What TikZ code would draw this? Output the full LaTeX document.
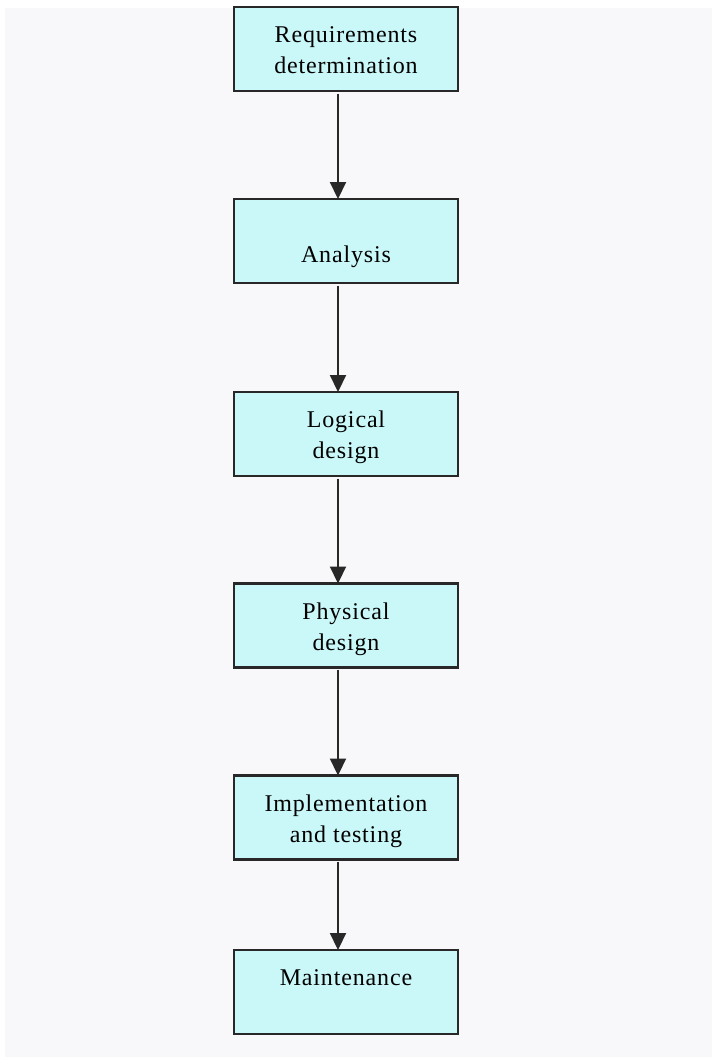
\documentclass[tikz,border=0pt]{standalone}
\usepackage{fontspec}
\setmainfont{Liberation Serif}[LetterSpace=3.5]
\usetikzlibrary{arrows.meta}
\definecolor{paper}{RGB}{248,248,250}
\definecolor{boxfill}{RGB}{202,247,248}
\definecolor{edge}{RGB}{40,40,40}
\tikzset{
  stagebox/.style={draw=edge, line width=1.6pt, fill=boxfill,
    minimum width=168pt, minimum height=63pt, inner sep=0pt, outer sep=0pt},
  stagetext/.style={anchor=base, align=center, inner sep=0pt,
    font=\fontsize{18pt}{23.25pt}\selectfont},
  flow/.style={draw=edge, line width=1.6pt,
    -{Triangle[width=12pt,length=12.75pt]}, shorten <=2pt}
}
\begin{document}
\begin{tikzpicture}[x=0.75pt, y=-0.75pt]
  \useasboundingbox (0,0) rectangle (712,1057);
  \fill[paper] (5,8) rectangle (712,1057);

  % stages of the life cycle
  \node[stagebox] (b1) at (346,49)    {};
  \node[stagebox] (b2) at (346,241)   {};
  \node[stagebox] (b3) at (346,434)   {};
  \node[stagebox] (b4) at (346,625.5) {};
  \node[stagebox] (b5) at (346,817.5) {};
  \node[stagebox] (b6) at (346,992)   {};

  % labels: the anchor is the baseline of the last line
  \node[stagetext] (t1) at (346,73)  {Requirements\\determination};
  \node[stagetext] (t2) at (346,262) {Analysis};
  \node[stagetext] (t3) at (346,458) {Logical\\design};
  \node[stagetext] (t4) at (346,650) {Physical\\design};
  \node[stagetext] (t5) at (346,842) {Implementation\\and testing};
  \node[stagetext] (t6) at (346,985) {Maintenance};

  % connectors run slightly left of the box centres
  \coordinate (ax) at (338,0);
  \draw[flow] (b1.south -| ax) -- (b2.north -| ax);
  \draw[flow] (b2.south -| ax) -- (b3.north -| ax);
  \draw[flow] (b3.south -| ax) -- (b4.north -| ax);
  \draw[flow] (b4.south -| ax) -- (b5.north -| ax);
  \draw[flow] (b5.south -| ax) -- (b6.north -| ax);
\end{tikzpicture}
\end{document}
